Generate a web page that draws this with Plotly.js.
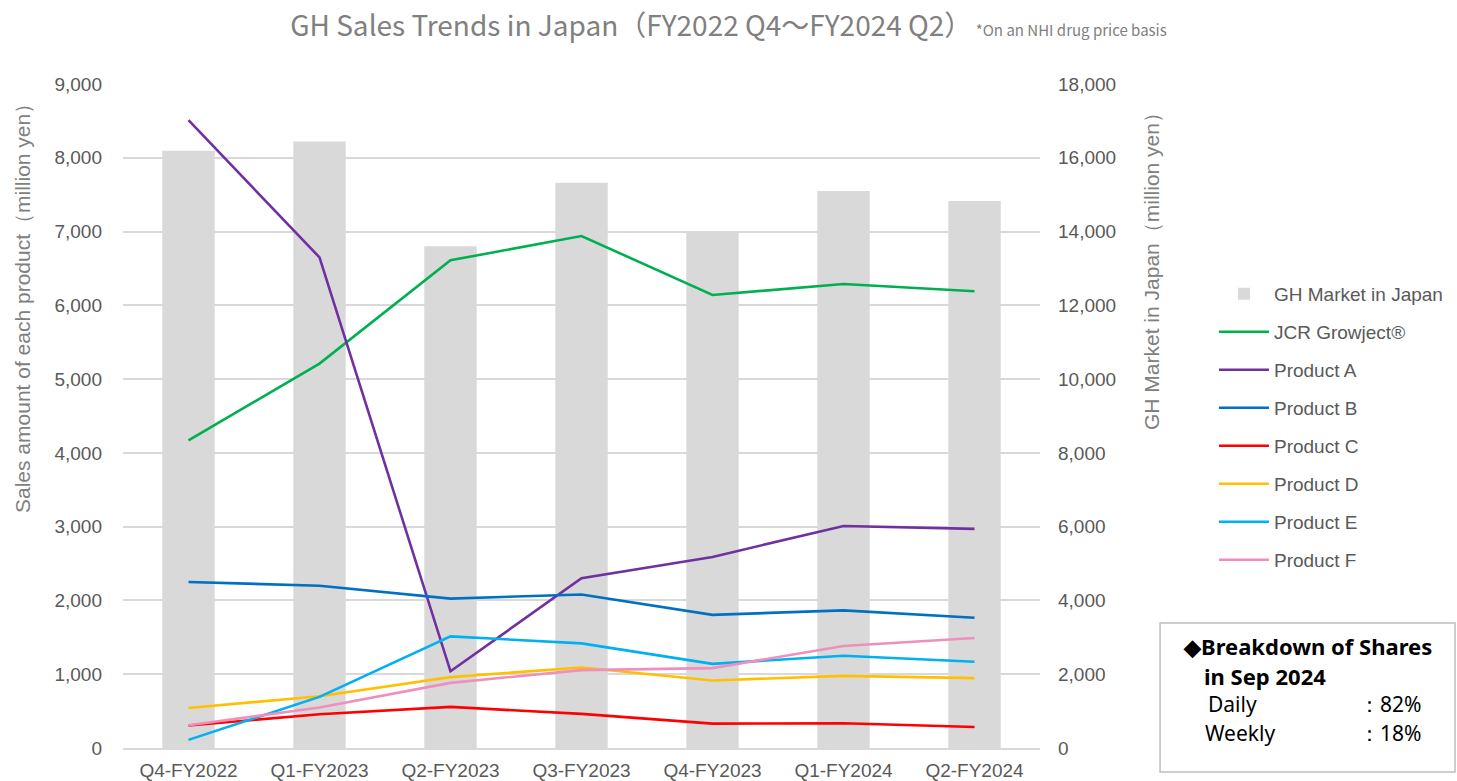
<!DOCTYPE html>
<html>
<head>
<meta charset="utf-8">
<script src="https://cdn.plot.ly/plotly-3.0.1.min.js"></script>
<style>html,body{margin:0;padding:0;background:#fff;}#chart{width:1457px;height:781px;}</style>
</head>
<body>
<div id="chart"></div>
<script>
const categories = ["Q4-FY2022","Q1-FY2023","Q2-FY2023","Q3-FY2023","Q4-FY2023","Q1-FY2024","Q2-FY2024"];
const ghMarket   = [16190, 16440, 13600, 15320, 14000, 15100, 14830];
const jcrGrowject = [4170, 5210, 6610, 6940, 6140, 6290, 6190];
const productA   = [8510, 6650, 1040, 2300, 2590, 3010, 2970];
const productB   = [2250, 2200, 2025, 2080, 1805, 1865, 1765];
const productC   = [305, 458, 557, 462, 331, 336, 285];
const productD   = [543, 702, 961, 1092, 915, 978, 947];
const productE   = [110, 693, 1513, 1418, 1141, 1250, 1169];
const productF   = [308, 549, 883, 1056, 1083, 1382, 1490];

const leftTicks = [0,1000,2000,3000,4000,5000,6000,7000,8000,9000];
const rightTicks = [0,2000,4000,6000,8000,10000,12000,14000,16000,18000];

const lineSeries = [
  {name:"JCR Growject®", y:jcrGrowject, color:"#00B050"},
  {name:"Product A", y:productA, color:"#7030A0"},
  {name:"Product B", y:productB, color:"#0070C0"},
  {name:"Product C", y:productC, color:"#FF0000"},
  {name:"Product D", y:productD, color:"#FFC000"},
  {name:"Product E", y:productE, color:"#00B0F0"},
  {name:"Product F", y:productF, color:"#EE8FBE"}
];

const traces = [{
  type:"bar", x:categories, y:ghMarket, name:"GH Market in Japan",
  marker:{color:"#D9D9D9"}, yaxis:"y", legendgroup:"g0", width:0.4,
  hoverinfo:"x+y"
}];
lineSeries.forEach((s,i)=>{
  traces.push({
    type:"scatter", mode:"lines", x:categories, y:s.y, name:s.name,
    line:{color:s.color, width:2.6}, yaxis:"y2", legendgroup:"g"+(i+1)
  });
});

const tickFont = {family:"Liberation Sans, Arial, sans-serif", size:19, color:"#595959"};
const T = (t, x, y, opts) => Object.assign({text:t, x:x, y:y, xref:"paper", yref:"paper", showarrow:false,
  xanchor:"left", yanchor:"middle", font:{family:"Noto Sans, sans-serif", size:21, color:"#000"}}, opts||{});

const layout = {
  width:1457, height:781,
  margin:{l:123, r:417, t:84, b:33, autoexpand:false},
  paper_bgcolor:"#fff", plot_bgcolor:"#fff",
  showlegend:true,
  title:{text:"GH Sales Trends in Japan（FY2022 Q4～FY2024 Q2）<span style='font-size:15px'> *On an NHI drug price basis</span>",
    font:{family:"Noto Sans CJK JP, Noto Sans, sans-serif", size:28, color:"#808080"},
    x:0.5, xref:"container", xanchor:"center", y:0.967, yanchor:"middle"},
  xaxis:{type:"category", tickfont:tickFont, showgrid:false, showline:true, linecolor:"#D9D9D9", linewidth:1.5,
    ticks:"", ticklabelstandoff:4, automargin:false, fixedrange:true},
  yaxis:{side:"right", range:[0,18000], tickvals:rightTicks, tickformat:",d", tickfont:tickFont,
    showgrid:true, gridcolor:"#D9D9D9", gridwidth:1.5, zeroline:false, showline:false, ticks:"",
    ticklabelstandoff:17, automargin:false, fixedrange:true},
  yaxis2:{overlaying:"y", side:"left", range:[0,9000], tickvals:leftTicks, tickformat:",d", tickfont:tickFont,
    showgrid:false, zeroline:false, showline:false, ticks:"", ticklabelstandoff:20, automargin:false, fixedrange:true},
  legend:{x:1.1897, y:0.7125, xanchor:"left", yanchor:"top", font:tickFont, tracegroupgap:10.3,
    bgcolor:"rgba(0,0,0,0)", itemwidth:50, traceorder:"grouped"},
  shapes:[{type:"rect", xref:"paper", yref:"paper", x0:1.1309, x1:1.4526, y0:-0.0361, y1:0.1883,
    line:{color:"#BFBFBF", width:1.5}, fillcolor:"rgba(0,0,0,0)"}],
  annotations:[
    {text:"Sales amount of each product（million yen）", x:22, y:303, xref:"paper", yref:"paper",
      xanchor:"center", yanchor:"middle",
      showarrow:false, textangle:-90, font:{family:"Liberation Sans, Arial, sans-serif", size:21, color:"#808080"}},
    {text:"GH Market in Japan（million yen）", x:1151, y:266, xref:"paper", yref:"paper",
      xanchor:"center", yanchor:"middle",
      showarrow:false, textangle:-90, font:{family:"Liberation Sans, Arial, sans-serif", size:21, color:"#808080"}},
    T("<b>◆Breakdown of Shares</b>", 1181, 646, {font:{family:"Noto Sans, sans-serif", size:22, color:"#000"}}),
    T("<b>in Sep 2024</b>", 1202, 676, {font:{family:"Noto Sans, sans-serif", size:22, color:"#000"}}),
    T("Daily", 1206, 704),
    T("Weekly", 1203, 733),
    T("：82%", 1357, 704),
    T("：18%", 1357, 733)
  ]
};

// convert pixel positions of annotations to paper coords
const plotW = 1457-123-417, plotH = 781-84-33;
layout.annotations.forEach(a=>{
  a.x = (a.x-123)/plotW;
  a.y = (748-a.y)/plotH;
});

Plotly.newPlot("chart", traces, layout, {displayModeBar:false, responsive:false});
</script>
</body>
</html>
